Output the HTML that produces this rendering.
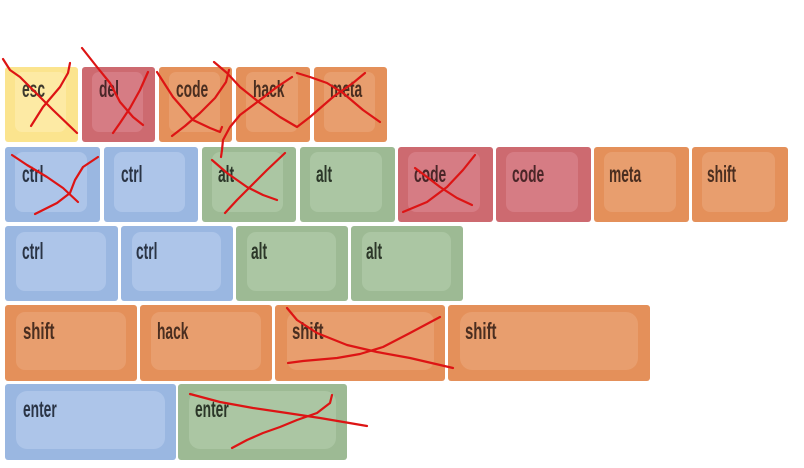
<!DOCTYPE html>
<html><head><meta charset="utf-8"><style>
html,body{margin:0;padding:0;background:#fff;}
svg{display:block;}
text{font-family:"Liberation Sans",sans-serif;font-size:23px;font-weight:bold;}
</style></head><body>
<svg width="804" height="468" viewBox="0 0 804 468" xmlns="http://www.w3.org/2000/svg">
<g id="keys">
<!-- row1 -->
<rect x="5" y="67" width="73" height="75" rx="3" fill="#fbe48e"/><rect x="15" y="72" width="51" height="60" rx="7" fill="#fdeaa4"/>
<rect x="82" y="67" width="73" height="75" rx="3" fill="#cd6a70"/><rect x="92" y="72" width="51" height="60" rx="7" fill="#d67c84"/>
<rect x="159" y="67" width="73" height="75" rx="3" fill="#e4905a"/><rect x="169" y="72" width="51" height="60" rx="7" fill="#e89e6e"/>
<rect x="236" y="67" width="74" height="75" rx="3" fill="#e4905a"/><rect x="246" y="72" width="52" height="60" rx="7" fill="#e89e6e"/>
<rect x="314" y="67" width="73" height="75" rx="3" fill="#e4905a"/><rect x="324" y="72" width="51" height="60" rx="7" fill="#e89e6e"/>
<!-- row2 -->
<rect x="5" y="147" width="95" height="75" rx="3" fill="#9ab7e1"/><rect x="15" y="152" width="72" height="60" rx="8" fill="#adc5e9"/>
<rect x="104" y="147" width="94" height="75" rx="3" fill="#9ab7e1"/><rect x="114" y="152" width="71" height="60" rx="8" fill="#adc5e9"/>
<rect x="202" y="147" width="94" height="75" rx="3" fill="#9dba94"/><rect x="212" y="152" width="71" height="60" rx="8" fill="#abc6a3"/>
<rect x="300" y="147" width="95" height="75" rx="3" fill="#9dba94"/><rect x="310" y="152" width="72" height="60" rx="8" fill="#abc6a3"/>
<rect x="398" y="147" width="95" height="75" rx="3" fill="#cd6a70"/><rect x="408" y="152" width="72" height="60" rx="8" fill="#d67c84"/>
<rect x="496" y="147" width="95" height="75" rx="3" fill="#cd6a70"/><rect x="506" y="152" width="72" height="60" rx="8" fill="#d67c84"/>
<rect x="594" y="147" width="95" height="75" rx="3" fill="#e4905a"/><rect x="604" y="152" width="72" height="60" rx="8" fill="#e89e6e"/>
<rect x="692" y="147" width="96" height="75" rx="3" fill="#e4905a"/><rect x="702" y="152" width="73" height="60" rx="8" fill="#e89e6e"/>
<!-- row3 -->
<rect x="5" y="226" width="113" height="75" rx="3" fill="#9ab7e1"/><rect x="16" y="232" width="90" height="59" rx="9" fill="#adc5e9"/>
<rect x="121" y="226" width="112" height="75" rx="3" fill="#9ab7e1"/><rect x="132" y="232" width="89" height="59" rx="9" fill="#adc5e9"/>
<rect x="236" y="226" width="112" height="75" rx="3" fill="#9dba94"/><rect x="247" y="232" width="89" height="59" rx="9" fill="#abc6a3"/>
<rect x="351" y="226" width="112" height="75" rx="3" fill="#9dba94"/><rect x="362" y="232" width="89" height="59" rx="9" fill="#abc6a3"/>
<!-- row4 -->
<rect x="5" y="305" width="132" height="76" rx="3" fill="#e4905a"/><rect x="16" y="312" width="110" height="58" rx="9" fill="#e89e6e"/>
<rect x="140" y="305" width="132" height="76" rx="3" fill="#e4905a"/><rect x="151" y="312" width="110" height="58" rx="9" fill="#e89e6e"/>
<rect x="275" y="305" width="170" height="76" rx="3" fill="#e4905a"/><rect x="287" y="312" width="147" height="58" rx="10" fill="#e89e6e"/>
<rect x="448" y="305" width="202" height="76" rx="3" fill="#e4905a"/><rect x="460" y="312" width="178" height="58" rx="12" fill="#e89e6e"/>
<!-- row5 -->
<rect x="5" y="384" width="171" height="76" rx="3" fill="#9ab7e1"/><rect x="16" y="391" width="149" height="58" rx="11" fill="#adc5e9"/>
<rect x="178" y="384" width="169" height="76" rx="3" fill="#9dba94"/><rect x="189" y="391" width="147" height="58" rx="11" fill="#abc6a3"/>
</g>
<g id="labels">
<text transform="translate(22,97) scale(0.6,1)" fill="#3d3a2e">esc</text>
<text transform="translate(99,97) scale(0.6,1)" fill="#4a2628">del</text>
<text transform="translate(176,97) scale(0.6,1)" fill="#4a2e20">code</text>
<text transform="translate(253,97) scale(0.6,1)" fill="#4a2e20">hack</text>
<text transform="translate(330,97) scale(0.6,1)" fill="#4a2e20">meta</text>

<text transform="translate(22,182) scale(0.6,1)" fill="#2a3445">ctrl</text>
<text transform="translate(121,182) scale(0.6,1)" fill="#2a3445">ctrl</text>
<text transform="translate(218,182) scale(0.6,1)" fill="#2b3628">alt</text>
<text transform="translate(316,182) scale(0.6,1)" fill="#2b3628">alt</text>
<text transform="translate(414,182) scale(0.6,1)" fill="#4a2628">code</text>
<text transform="translate(512,182) scale(0.6,1)" fill="#4a2628">code</text>
<text transform="translate(609,182) scale(0.6,1)" fill="#4a2e20">meta</text>
<text transform="translate(707,182) scale(0.6,1)" fill="#4a2e20">shift</text>

<text transform="translate(22,259) scale(0.6,1)" fill="#2a3445">ctrl</text>
<text transform="translate(136,259) scale(0.6,1)" fill="#2a3445">ctrl</text>
<text transform="translate(251,259) scale(0.6,1)" fill="#2b3628">alt</text>
<text transform="translate(366,259) scale(0.6,1)" fill="#2b3628">alt</text>

<text transform="translate(23,339) scale(0.65,1)" fill="#4a2e20">shift</text>
<text transform="translate(157,339) scale(0.6,1)" fill="#4a2e20">hack</text>
<text transform="translate(292,339) scale(0.65,1)" fill="#4a2e20">shift</text>
<text transform="translate(465,339) scale(0.65,1)" fill="#4a2e20">shift</text>

<text transform="translate(23,417) scale(0.6,1)" fill="#2a3445">enter</text>
<text transform="translate(195,417) scale(0.6,1)" fill="#2b3628">enter</text>
</g>
<g fill="none" stroke="#dd1414" stroke-width="2.2" stroke-linecap="round" stroke-linejoin="round">
<polyline points="3,59 10,70 20,77 33,90 53,110 77,133"/>
<polyline points="70,63 68,73 60,87 43,107 31,126"/>
<polyline points="82,48 97,67 110,83 120,102 133,117 143,125"/>
<polyline points="148,72 140,90 130,108 120,123 113,133"/>
<polyline points="157,72 173,97 193,120 210,128 220,132 222,127"/>
<polyline points="229,70 226,82 215,98 200,113 185,126 172,136"/>
<polyline points="214,62 227,73 240,87 260,103 280,117 297,127 310,117 333,97 353,83 365,73"/>
<polyline points="292,77 277,87 260,100 240,115 230,127 223,140 222,150 221,157"/>
<polyline points="297,73 310,77 327,83 343,93 363,110 380,122"/>
<polyline points="12,155 27,165 47,177 63,188 78,202"/>
<polyline points="98,157 83,167 75,180 70,193 57,203 35,214"/>
<polyline points="212,160 227,173 247,187 263,195 277,200"/>
<polyline points="285,153 267,170 250,187 237,200 225,213"/>
<polyline points="415,168 427,177 440,187 457,198 472,205"/>
<polyline points="475,155 463,170 447,187 427,202 403,212"/>
<polyline points="287,308 297,320 317,333 347,345 377,352 410,358 453,368"/>
<polyline points="288,363 303,361 337,358 360,354 383,347 410,333 440,317"/>
<polyline points="190,394 220,402 253,408 287,413 320,418 367,426"/>
<polyline points="332,395 330,403 317,413 297,420 280,427 263,433 247,440 232,448"/>
</g>
</svg>
</body></html>
